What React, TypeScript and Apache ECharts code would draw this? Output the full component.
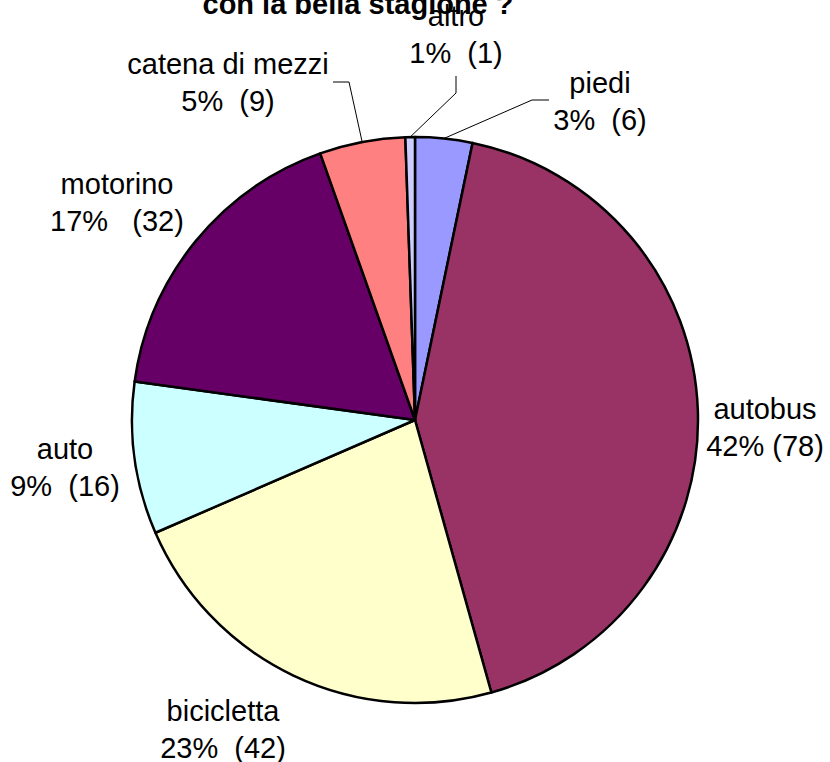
import React, { useEffect, useRef } from 'react';
import * as echarts from 'echarts';

const categories = ['piedi', 'autobus', 'bicicletta', 'auto', 'motorino', 'catena di mezzi', 'altro'];
const counts = [6, 78, 42, 16, 32, 9, 1];
const colors = ['#9999FF', '#993366', '#FFFFCC', '#CCFFFF', '#660066', '#FF8080', '#CCCCFF'];
const spaceCounts = [2, 1, 2, 2, 3, 2, 2];
const titleText = 'con la bella stagione ?';

// label layout (centre of each label block, and optional leader line elbows relative to it)
const labelLayoutMap: Record<string, { x: number; y: number; guide?: number[][] }> = {
  'piedi': { x: 600, y: 101, guide: [[-68, -1], [-51, -1]] },
  'autobus': { x: 765, y: 427 },
  'bicicletta': { x: 223, y: 729 },
  'auto': { x: 65, y: 467 },
  'motorino': { x: 117, y: 202 },
  'catena di mezzi': { x: 228, y: 82, guide: [[121, 0], [105, 0]] },
  'altro': { x: 456, y: 34, guide: [[0, 59], [0, 42]] },
};

const FONT = 'Liberation Sans, Arial, sans-serif';

export default function App() {
  const ref = useRef<HTMLDivElement>(null);
  useEffect(() => {
    if (!ref.current) return;
    const chart = echarts.init(ref.current, undefined, { renderer: 'svg' });
    const data = categories.map((name, i) => {
      const hasGuide = !!labelLayoutMap[name].guide;
      return {
        name,
        value: counts[i],
        itemStyle: { color: colors[i] },
        labelLine: { show: hasGuide },
      };
    });
    chart.setOption({
      animation: false,
      backgroundColor: '#FFFFFF',
      graphic: [
        {
          type: 'text',
          x: 358,
          y: 4,
          style: {
            text: titleText,
            fill: '#000000',
            font: `bold 29px ${FONT}`,
            align: 'center',
            verticalAlign: 'middle',
          },
          z: 0,
        },
      ],
      series: [
        {
          type: 'pie',
          center: [415, 420],
          radius: 283,
          startAngle: 90,
          clockwise: true,
          percentPrecision: 0,
          avoidLabelOverlap: false,
          z: 2,
          itemStyle: { borderColor: '#000000', borderWidth: 2.5 },
          emphasis: { disabled: true },
          label: {
            show: true,
            position: 'outside',
            color: '#000000',
            fontFamily: FONT,
            fontSize: 29,
            lineHeight: 37,
            align: 'center',
            formatter: (p: any) => {
              const sp = ' '.repeat(spaceCounts[p.dataIndex]);
              return `${p.name}\n${p.percent}%${sp}(${p.value})`;
            },
          },
          labelLine: {
            show: true,
            length: 10,
            length2: 10,
            lineStyle: { color: '#000000', width: 1 },
          },
          labelLayout: (params: any) => {
            const name = categories[params.dataIndex];
            const p = labelLayoutMap[name];
            const out: any = { x: p.x, y: p.y, align: 'center', verticalAlign: 'middle' };
            if (p.guide && params.labelLinePoints) {
              const a = params.labelLinePoints[0];
              out.labelLinePoints = [
                [a[0], a[1]],
                [p.x + p.guide[0][0], p.y + p.guide[0][1]],
                [p.x + p.guide[1][0], p.y + p.guide[1][1]],
              ];
            }
            return out;
          },
          data,
        },
      ],
    });
    return () => chart.dispose();
  }, []);
  return (
    <div
      ref={ref}
      style={{ position: 'absolute', left: 0, top: 0, width: 830, height: 762 }}
    />
  );
}
